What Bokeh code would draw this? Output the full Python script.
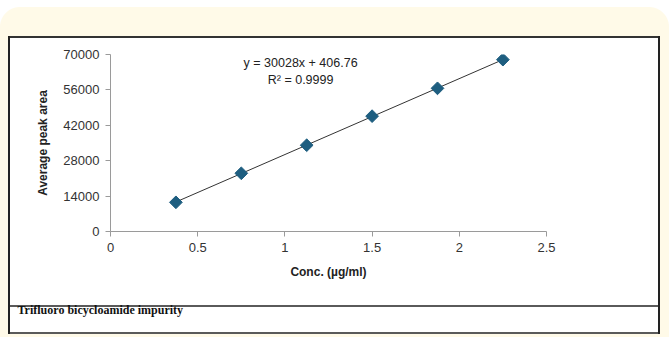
import math
from bokeh.plotting import figure
from bokeh.models import FixedTicker, Range1d, Label
from bokeh.embed import file_html
from bokeh.resources import INLINE

# ---- data ----
conc = [0.375, 0.75, 1.125, 1.5, 1.875, 2.25]
peak_area = [11540, 23020, 34120, 45620, 56620, 67960]
slope = 30028
intercept = 406.76
r_squared = 0.9999
x_ticks = [0, 0.5, 1, 1.5, 2, 2.5]
x_tick_labels = ["0", "0.5", "1", "1.5", "2", "2.5"]
y_ticks = [0, 14000, 28000, 42000, 56000, 70000]
y_tick_labels = ["0", "14000", "28000", "42000", "56000", "70000"]
x_title = "Conc. (µg/ml)"
y_title = "Average peak area"
caption = "Trifluoro bicycloamide impurity"

W, H = 669, 337
CREAM = "#FFFAE8"

def g(c):
    return f"linear-gradient({c},{c})"

layers = [
    (g("#222222"), "8px 36px", "2px 298px"),
    (g("#222222"), "658px 36px", "2px 298px"),
    (g("#333333"), "8px 36px", "652px 2px"),
    (g("#5a5a5a"), "8px 305px", "652px 2px"),
    (g("#5a5a5a"), "8px 332px", "652px 2px"),
    (g("white"), "8px 36px", "652px 298px"),
    ("radial-gradient(circle at 100% 100%, transparent 19.5px, white 20.5px)", "0px 7px", "20px 20px"),
    ("radial-gradient(circle at 0% 100%, transparent 19.5px, white 20.5px)", "649px 7px", "20px 20px"),
    (g(CREAM), "0px 7px", "669px 330px"),
]
bg_style = {
    "background-color": "white",
    "background-image": ", ".join(l[0] for l in layers),
    "background-position": ", ".join(l[1] for l in layers),
    "background-size": ", ".join(l[2] for l in layers),
    "background-repeat": "no-repeat",
}

p = figure(width=W, height=H, output_backend="svg", toolbar_location=None,
           x_range=Range1d(0, 2.5), y_range=Range1d(0, 70000),
           min_border_left=110, min_border_right=W - 546,
           min_border_top=54, min_border_bottom=H - 231,
           border_fill_color=None, background_fill_color=None,
           styles=bg_style, title_location="below")
p.outline_line_color = None
p.grid.visible = False

# caption as a title below the chart
p.title.text = caption
p.title.align = "left"
p.title.offset = -93
p.title.standoff = 38
p.title.text_baseline = "middle"
p.title.text_font = "Liberation Serif"
p.title.text_font_style = "bold"
p.title.text_font_size = "12px"
p.title.text_color = "#111111"

# axes
for ax, ticks, labels in ((p.xaxis[0], x_ticks, x_tick_labels),
                          (p.yaxis[0], y_ticks, y_tick_labels)):
    ax.ticker = FixedTicker(ticks=ticks)
    ax.major_label_overrides = {t: l for t, l in zip(ticks, labels)}
    ax.minor_tick_line_color = None
    ax.axis_line_color = "#9a9a9a"
    ax.major_tick_line_color = "#9a9a9a"
    ax.major_tick_in = 0
    ax.major_tick_out = 5
    ax.major_label_text_font = "Liberation Sans"
    ax.major_label_text_font_size = "13px"
    ax.major_label_text_color = "#333333"
    ax.axis_label_text_font = "Liberation Sans"
    ax.axis_label_text_font_style = "bold"
    ax.axis_label_text_font_size = "12px"
    ax.axis_label_text_color = "#222222"
    ax.axis_label_standoff = 10
p.xaxis.axis_label = x_title
p.yaxis.axis_label = y_title
p.yaxis.major_label_standoff = 6
p.xaxis.major_label_standoff = 6

# trendline from fit
tx = [conc[0], conc[-1]]
ty = [slope * x + intercept for x in tx]
p.line(tx, ty, line_color="#333333", line_width=1)

p.scatter(conc, peak_area, marker="square", size=9, angle=math.pi / 4,
          fill_color="#1E5E80", line_color="#1E5E80")

eq1 = f"y = {slope}x + {intercept}"
eq2 = f"R² = {r_squared}"
p.add_layout(Label(x=1.09, y=66800, text=eq1, text_align="center",
                   text_baseline="middle", text_font="Liberation Sans",
                   text_font_size="12.5px", text_color="#222222"))
p.add_layout(Label(x=1.09, y=60100, text=eq2, text_align="center",
                   text_baseline="middle", text_font="Liberation Sans",
                   text_font_size="12.5px", text_color="#222222"))

open("out.html", "w").write(file_html(p, INLINE))
